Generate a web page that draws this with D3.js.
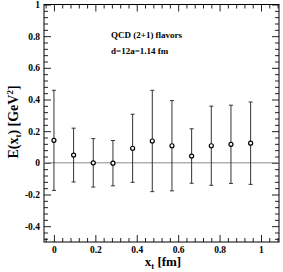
<!DOCTYPE html>
<html><head><meta charset="utf-8">
<script src="https://cdn.jsdelivr.net/npm/d3@7"></script>
<style>body{margin:0;background:#fff}svg{display:block}text{font-family:"Liberation Serif","DejaVu Serif",serif;font-weight:bold}</style>
</head><body>
<script>
const xt = [0, 0.095, 0.19, 0.285, 0.38, 0.475, 0.57, 0.665, 0.76, 0.855, 0.95];
const E = [0.142, 0.049, 0.0, -0.002, 0.092, 0.138, 0.108, 0.043, 0.108, 0.117, 0.124];
const err = [0.316, 0.170, 0.153, 0.143, 0.215, 0.320, 0.285, 0.172, 0.250, 0.247, 0.260];
const xTicks = [0, 0.2, 0.4, 0.6, 0.8, 1];
const yTicks = [-0.4, -0.2, 0, 0.2, 0.4, 0.6, 0.8, 1];
const xTickLabels = ["0", "0.2", "0.4", "0.6", "0.8", "1"];
const yTickLabels = ["-0.4", "-0.2", "0", "0.2", "0.4", "0.6", "0.8", "1"];

const W = 283, H = 272;
const svg = d3.select("body").append("svg").attr("width", W).attr("height", H);
const x = d3.scaleLinear().domain([-0.048, 1.087]).range([44, 279]);
const y = d3.scaleLinear().domain([-0.5, 1]).range([242, 4.5]);
const g = svg.append("g");

const xMinor = d3.range(-0.04, 1.09, 0.04).filter(v => Math.abs(v/0.2 - Math.round(v/0.2)) > 1e-6);
const yMinor = d3.range(-0.48, 1.0, 0.04).filter(v => Math.abs(v/0.2 - Math.round(v/0.2)) > 1e-6);

function tickAxis(axisFn, scale, major, minor, tr, labels) {
  const a = g.append("g").attr("transform", tr);
  a.call(axisFn(scale).tickValues(major).tickSize(-7).tickFormat((d,i)=>labels ? labels[i] : ""));
  a.append("g").call(axisFn(scale).tickValues(minor).tickSize(-4).tickFormat(""));
  a.selectAll(".domain").remove();
  a.selectAll("line").attr("stroke", "#222");
  return a;
}
const bx = tickAxis(d3.axisBottom, x, xTicks, xMinor, "translate(0,242)", xTickLabels);
bx.selectAll("text").attr("y", 4).attr("dy", "0.71em").attr("font-size", 9.5).attr("fill", "#000")
  .attr("font-family", '"Liberation Serif",serif').attr("font-weight", "bold");
tickAxis(d3.axisTop, x, xTicks, xMinor, "translate(0,4.5)", null);
const ly = tickAxis(d3.axisLeft, y, yTicks, yMinor, "translate(44,0)", yTickLabels);
ly.selectAll("text").attr("x", -4).attr("font-size", 9.5).attr("fill", "#000")
  .attr("font-family", '"Liberation Serif",serif').attr("font-weight", "bold");
tickAxis(d3.axisRight, y, yTicks, yMinor, "translate(279,0)", null);

g.append("rect").attr("x", 44).attr("y", 4.5).attr("width", 235).attr("height", 237.5)
  .attr("fill", "none").attr("stroke", "#000").attr("stroke-width", 1);

g.append("line").attr("x1", 44).attr("x2", 279).attr("y1", y(0)).attr("y2", y(0))
  .attr("stroke", "#888").attr("stroke-width", 1);

const data = xt.map((v, i) => ({x: v, e: E[i], s: err[i]}));
const pts = g.append("g").selectAll("g").data(data).join("g");
pts.append("line").attr("x1", d => x(d.x)).attr("x2", d => x(d.x))
  .attr("y1", d => y(d.e + d.s)).attr("y2", d => y(d.e - d.s)).attr("stroke", "#333").attr("stroke-width", 1);
pts.append("line").attr("x1", d => x(d.x) - 2).attr("x2", d => x(d.x) + 2)
  .attr("y1", d => y(d.e + d.s)).attr("y2", d => y(d.e + d.s)).attr("stroke", "#333").attr("stroke-width", 1);
pts.append("line").attr("x1", d => x(d.x) - 2).attr("x2", d => x(d.x) + 2)
  .attr("y1", d => y(d.e - d.s)).attr("y2", d => y(d.e - d.s)).attr("stroke", "#333").attr("stroke-width", 1);
pts.append("circle").attr("cx", d => x(d.x)).attr("cy", d => y(d.e)).attr("r", 2)
  .attr("fill", "#fff").attr("stroke", "#000").attr("stroke-width", 1.2);

g.append("text").attr("x", 111).attr("y", 38).attr("font-size", 9).text("QCD (2+1) flavors");
g.append("text").attr("x", 111).attr("y", 54).attr("font-size", 9).text("d=12a=1.14 fm");

const xl = g.append("text").attr("x", 163).attr("y", 266).attr("text-anchor", "middle").attr("font-size", 13);
xl.append("tspan").text("x");
xl.append("tspan").attr("font-size", 8.5).attr("dy", 3).text("t");
xl.append("tspan").attr("dy", -3).text(" [fm]");

const yl = g.append("text").attr("transform", "translate(18,122) rotate(-90)").attr("text-anchor", "middle").attr("font-size", 14);
yl.append("tspan").text("E(x");
yl.append("tspan").attr("font-size", 9).attr("dy", 3).text("t");
yl.append("tspan").attr("dy", -3).text(") [GeV");
yl.append("tspan").attr("font-size", 9).attr("dy", -5).text("2");
yl.append("tspan").attr("dy", 5).text("]");
</script>
</body></html>
